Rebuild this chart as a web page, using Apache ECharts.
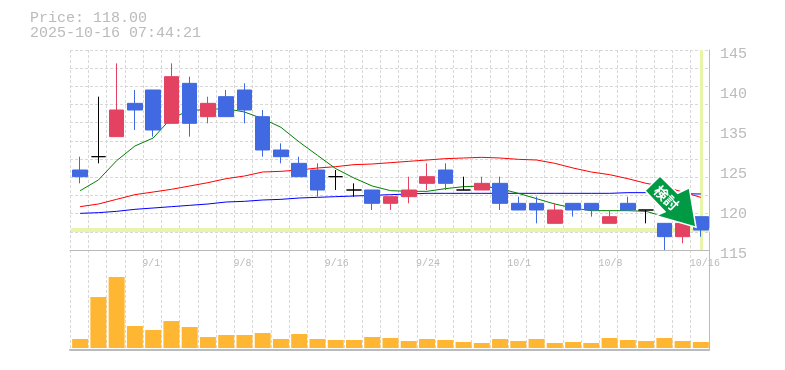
<!DOCTYPE html>
<html lang="ja">
<head>
  <meta charset="UTF-8">
  <title>Price chart</title>
  <script src="https://cdn.jsdelivr.net/npm/echarts@6/dist/echarts.min.js"></script>
  <style>
    html, body { margin: 0; padding: 0; background: #fff; }
    #chart { width: 785px; height: 370px; }
  </style>
</head>
<body>
<div id="chart"></div>
<script>
  var dates = ['8/26','8/27','8/28','8/29','9/1','9/2','9/3','9/4','9/5','9/8','9/9','9/10','9/11','9/12','9/16',
    '9/17','9/18','9/19','9/22','9/24','9/25','9/26','9/29','9/30','10/1','10/2','10/3','10/6','10/7','10/8',
    '10/9','10/10','10/14','10/15','10/16'];
  var opens  = [127,129,132,137,139,134,140,135,138,139,135,130,128,127,126,124,124,122,123,125,127,124,124,125,122,122,119,122,122,119,122,121,119,117,120];
  var closes = [126,129,136,136,133,141,134,137,135,136,130,129,126,124,126,124,122,123,124,126,125,124,125,122,121,121,121,121,121,120,121,121,117,119,118];
  var lows   = [125,128,132,133,132,134,132,134,135,134,129,128,126,123,124,123,121,121,122,124,124,124,124,121,121,119,119,120,120,119,121,119,115,116,117];
  var highs  = [129,138,143,139,139,143,141,138,139,140,136,131,129,128,127,125,124,123,126,128,128,126,126,126,123,123,122,122,122,121,123,121,119,119,120];
  var volumes = [9,51,71,22,18,27,21,11,13,13,15,9,14,9,8,8,11,10,7,9,8,6,5,9,7,9,5,6,5,10,8,7,10,7,6];
  var maShort = [123.9,125.5,128.4,130.6,131.8,134.8,135.9,136.1,136.2,135.7,134.7,133.4,131.2,129.2,127.2,125.8,124.6,123.9,123.8,123.8,124.2,124.5,124.6,124.2,123.5,122.7,121.9,121.3,120.9,120.9,120.9,120.8,120,119.6,119.2];
  var maMid = [121.5,121.9,122.6,123.3,123.7,124.1,124.6,125.1,125.7,126.1,126.7,126.8,127,127.3,127.5,127.8,127.9,128.1,128.3,128.5,128.7,128.8,128.9,128.8,128.6,128.5,128,127.3,126.7,126.3,125.7,125,124.5,123.7,122.9];
  var maLong = [120.5,120.6,120.8,121.1,121.3,121.5,121.7,121.9,122.2,122.3,122.5,122.6,122.8,122.9,123,123.1,123.2,123.3,123.4,123.5,123.5,123.5,123.5,123.5,123.5,123.5,123.5,123.5,123.5,123.5,123.6,123.6,123.5,123.45,123.4];
  var priceTicks = ['115','120','125','135','140','145'];
  var lastPrice = 118;
  var lastTime = '2025-10-16 07:44:21';

  var candles = dates.map(function (d, i) {
    return [opens[i], closes[i], lows[i], highs[i]];
  });

  var GREY = '#bbbbbb';
  var LAST_LINE = '#e6f5a9';
  var DASH = { show: true, lineStyle: { color: '#d8d8d8', width: 1, type: [3, 2] } };
  var MONO = '"Liberation Mono", monospace';

  // empty axis for a grid that only holds marks
  function bare(extra) {
    return Object.assign({
      axisLine: { show: false }, axisTick: { show: false },
      axisLabel: { show: false }, splitLine: { show: false }
    }, extra);
  }

  var myChart = echarts.init(document.getElementById('chart'), null, { renderer: 'canvas' });

  var option = {
    animation: false,
    backgroundColor: '#fff',
    title: {
      left: 30, top: 11, padding: 0,
      text: 'Price: ' + lastPrice.toFixed(2) + '\n' + lastTime,
      textStyle: { fontFamily: MONO, fontSize: 15, fontWeight: 'normal', color: GREY, lineHeight: 15 }
    },
    grid: [
      { left: 71, top: 50, width: 639, height: 200 },  // 0 candles and averages
      { left: 71, top: 250, width: 639, height: 100 }, // 1 volume
      { left: 60, top: 54, width: 639, height: 200 },  // 2 tick labels
      { left: 70, top: 50, width: 639, height: 200 },  // 3 price panel lines
      { left: 70, top: 250, width: 639, height: 100 }  // 4 volume panel lines
    ],
    xAxis: [
      bare({ gridIndex: 0, type: 'category', data: dates }),
      bare({ gridIndex: 1, type: 'category', data: dates }),
      bare({
        gridIndex: 2, type: 'category', data: dates,
        axisLabel: {
          show: true, align: 'left', margin: 4, color: GREY, fontFamily: MONO, fontSize: 10,
          interval: function (i) { return i % 5 === 4; }
        }
      }),
      bare({
        gridIndex: 3, type: 'category', data: dates,
        axisLine: { show: true, onZero: false, lineStyle: { color: GREY, width: 1 } },
        splitLine: Object.assign({ interval: 0 }, DASH)
      }),
      bare({
        gridIndex: 4, type: 'category', data: dates,
        axisLine: { show: true, onZero: false, lineStyle: { color: GREY, width: 2 } },
        splitLine: Object.assign({ interval: 0 }, DASH)
      })
    ],
    yAxis: [
      bare({ gridIndex: 0, type: 'value', min: 115, max: 145 }),
      bare({ gridIndex: 1, type: 'value', min: -2, max: 98 }),
      bare({
        gridIndex: 2, type: 'category', position: 'right', data: priceTicks, boundaryGap: false,
        axisLabel: { show: true, interval: 0, margin: 21, color: GREY, fontFamily: MONO, fontSize: 15 }
      }),
      // 11 rows, unrelated to the price ticks
      bare({
        gridIndex: 3, type: 'value', position: 'right', min: 0, max: 11, interval: 1,
        axisLine: { show: true, lineStyle: { color: GREY, width: 1 } },
        splitLine: DASH
      }),
      bare({
        gridIndex: 4, type: 'value', position: 'right', min: 0, max: 1,
        axisLine: { show: true, lineStyle: { color: GREY, width: 1 } }
      })
    ],
    series: [
      {
        name: 'MA long', type: 'line', xAxisIndex: 0, yAxisIndex: 0, data: maLong, z: 2,
        symbol: 'none', silent: true, lineStyle: { color: '#0000ff', width: 1 },
        markLine: {
          silent: true, symbol: 'none', z: 1, animation: false, label: { show: false },
          lineStyle: { color: LAST_LINE, type: 'solid' },
          data: [
            { yAxis: lastPrice, lineStyle: { color: LAST_LINE, width: 4, type: 'solid' } },
            { xAxis: dates[dates.length - 1], lineStyle: { color: LAST_LINE, width: 3, type: 'solid' } }
          ]
        }
      },
      {
        name: 'MA mid', type: 'line', xAxisIndex: 0, yAxisIndex: 0, data: maMid, z: 2,
        symbol: 'none', silent: true, lineStyle: { color: '#ff0000', width: 1 }
      },
      {
        name: 'MA short', type: 'line', xAxisIndex: 0, yAxisIndex: 0, data: maShort, z: 2,
        symbol: 'none', silent: true, lineStyle: { color: '#008000', width: 1 }
      },
      {
        name: 'Price', type: 'candlestick', xAxisIndex: 0, yAxisIndex: 0, data: candles, z: 3,
        barWidth: 15, silent: true,
        itemStyle: {
          color: '#e34360', color0: '#4169e1',
          borderColor: '#e34360', borderColor0: '#4169e1', borderColorDoji: '#000000',
          borderWidth: 1
        }
      },
      {
        name: 'Volume', type: 'bar', xAxisIndex: 1, yAxisIndex: 1, data: volumes, z: 3,
        barWidth: 16, silent: true, itemStyle: { color: '#ffb733' }
      }
    ],
    graphic: [
      {
        type: 'polygon', z: 100, silent: true,
        shape: { points: [[645, 190.7], [660, 176], [677.7, 193.3], [689.3, 187.7], [696, 227.3], [656, 215.7], [665, 211.7]] },
        style: { fill: '#009944', stroke: '#ffffff', lineWidth: 1.5, lineJoin: 'miter' }
      },
      {
        type: 'text', z: 101, silent: true, x: 666.5, y: 198, rotation: -Math.PI / 4,
        style: {
          text: '検討', fill: '#ffffff', align: 'center', verticalAlign: 'middle',
          font: 'bold 14px "Noto Sans CJK JP"'
        }
      }
    ]
  };

  myChart.setOption(option);
</script>
</body>
</html>
